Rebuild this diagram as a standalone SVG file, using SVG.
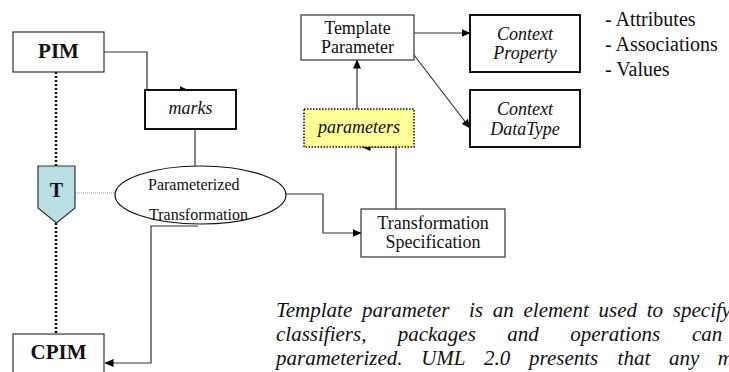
<svg xmlns="http://www.w3.org/2000/svg" width="729" height="372" viewBox="0 0 729 372">
  <defs>
    <marker id="arrow" markerWidth="9" markerHeight="8" refX="8.5" refY="4" orient="auto" markerUnits="userSpaceOnUse">
      <path d="M0,0 L9,4 L0,8 Z" fill="#000000"/>
    </marker>
  </defs>

  <rect width="729" height="372" fill="#ffffff"/>

  <!-- connectors -->
  <g id="connectors" fill="none">
    <g stroke="#111111" stroke-width="2.5" stroke-dasharray="2 2">
      <line x1="56" y1="72" x2="56" y2="166"/>
      <line x1="56" y1="223" x2="56" y2="334"/>
    </g>
    <line x1="75" y1="193" x2="115" y2="193" stroke="#999999" stroke-width="1" stroke-dasharray="1 1"/>
    <g stroke="#333333" stroke-width="1.2">
      <path d="M104,52 H147 V90 H188" marker-end="url(#arrow)"/>
      <path d="M195,129 V166"/>
      <path d="M286,194 H323 V233 H361" marker-end="url(#arrow)"/>
      <path d="M198,226 H151 V363 H105" marker-end="url(#arrow)"/>
      <path d="M396,209 V147 H362" marker-end="url(#arrow)"/>
      <path d="M357,109 V60" marker-end="url(#arrow)"/>
      <path d="M414,33 H470" marker-end="url(#arrow)"/>
      <path d="M414,55 L470,128" marker-end="url(#arrow)"/>
    </g>
  </g>

  <!-- nodes: shared text look set once on the wrapper -->
  <g font-family="Liberation Serif" fill="#111111">

    <!-- model boxes, bold titles -->
    <g font-size="21" font-weight="bold" text-anchor="middle">
      <g id="pim">
        <rect x="13" y="32" width="91" height="40" fill="#ffffff" stroke="#333333" stroke-width="1.2"/>
        <text x="58.5" y="58">PIM</text>
      </g>
      <g id="cpim">
        <rect x="13" y="334" width="91" height="44" fill="#ffffff" stroke="#333333" stroke-width="1.2"/>
        <text x="58.5" y="359">CPIM</text>
      </g>
      <g id="t">
        <polygon points="38,166 75,166 75,208 56.5,223 38,208" fill="#b9dfe4" stroke="#333333" stroke-width="1.2"/>
        <text x="56.5" y="197" font-size="20">T</text>
      </g>
    </g>

    <g id="parameterized-transformation" font-size="16">
      <ellipse cx="200.5" cy="195" rx="85.5" ry="29" fill="#ffffff" stroke="#111111" stroke-width="1.2"/>
      <text x="148" y="190">Parameterized</text>
      <text x="149" y="220">Transformation</text>
    </g>

    <!-- labelled boxes -->
    <g font-size="18" text-anchor="middle">
      <g id="transformation-specification">
        <rect x="361" y="209" width="144" height="48" fill="#ffffff" stroke="#333333" stroke-width="1.2"/>
        <text x="433" y="229">Transformation</text>
        <text x="433" y="248">Specification</text>
      </g>
      <g id="template-parameter">
        <rect x="301" y="15" width="113" height="45" fill="#ffffff" stroke="#333333" stroke-width="1.2"/>
        <text x="357.5" y="34">Template</text>
        <text x="357.5" y="53">Parameter</text>
      </g>

      <g font-style="italic">
        <g id="parameters">
          <rect x="304" y="109" width="110" height="38" fill="#ffff99" stroke="#111111" stroke-width="1.5" stroke-dasharray="1.5 1.5"/>
          <text x="359" y="133">parameters</text>
        </g>
        <g stroke="#111111" stroke-width="2">
          <g id="marks">
            <rect x="145" y="90" width="91" height="39" fill="#ffffff"/>
            <text x="190.5" y="114" stroke="none">marks</text>
          </g>
          <g id="context-property">
            <rect x="470" y="15" width="110" height="57" fill="#ffffff"/>
            <text x="525" y="40" stroke="none">Context</text>
            <text x="525" y="59" stroke="none">Property</text>
          </g>
          <g id="context-datatype">
            <rect x="470" y="90" width="110" height="57" fill="#ffffff"/>
            <text x="525" y="115" stroke="none">Context</text>
            <text x="525" y="135" stroke="none">DataType</text>
          </g>
        </g>
      </g>
    </g>

    <!-- property list -->
    <g font-size="20">
      <text x="605" y="26">- Attributes</text>
      <text x="605" y="51">- Associations</text>
      <text x="605" y="76">- Values</text>
    </g>

    <!-- description paragraph, justified line by line -->
    <g font-size="21" font-style="italic">
      <text x="276" y="317" xml:space="preserve" word-spacing="4.5">Template parameter  is an element used to specify</text>
      <text y="341"><tspan x="276">classifiers,</tspan><tspan x="397.7">packages</tspan><tspan x="507.3">and</tspan><tspan x="570.3">operations</tspan><tspan x="692">can</tspan></text>
      <text y="365"><tspan x="276">parameterized.</tspan><tspan x="421.2">UML</tspan><tspan x="484.1">2.0</tspan><tspan x="529">presents</tspan><tspan x="617.6">that</tspan><tspan x="668.9">any</tspan><tspan x="717.8">m</tspan></text>
    </g>
  </g>
</svg>
